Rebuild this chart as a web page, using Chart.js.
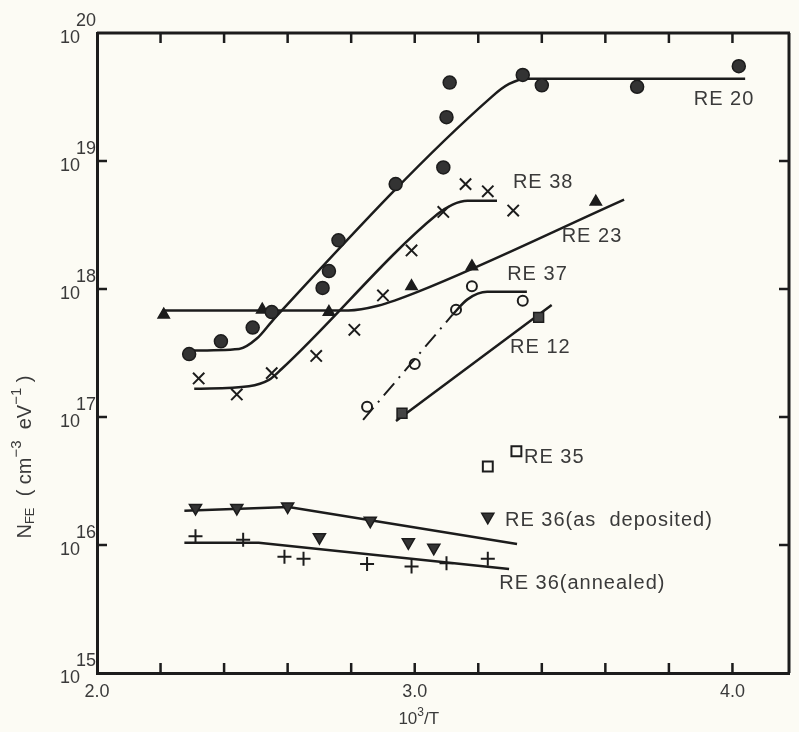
<!DOCTYPE html>
<html>
<head>
<meta charset="utf-8">
<script src="https://cdn.jsdelivr.net/npm/chart.js@4.4.0/dist/chart.umd.min.js"></script>
<style>
  html, body { margin: 0; padding: 0; background: #fcfbf4; }
  #wrap { width: 799px; height: 732px; }
</style>
</head>
<body>
<div id="wrap"><canvas id="chart" width="799" height="732"></canvas></div>
<script>
// values: x = 10^3/T, y = N_FE (cm^-3 eV^-1)
const re20X = [2.29, 2.39, 2.49, 2.55, 2.71, 2.73, 2.76, 2.94, 3.09, 3.10, 3.11, 3.34, 3.40, 3.70, 4.02];
const re20Y = [3.1e17, 3.9e17, 5.0e17, 6.6e17, 1.02e18, 1.38e18, 2.4e18, 6.6e18, 8.9e18, 2.2e19, 4.1e19, 4.7e19, 3.9e19, 3.8e19, 5.5e19];
const re20FitX = [2.275, 2.447, 2.503, 2.556, 3.244, 3.297, 3.353, 4.04];
const re20FitY = [3.3e17, 3.4e17, 4.1e17, 5.8e17, 3.2e19, 4.0e19, 4.4e19, 4.4e19];

const re38X = [2.32, 2.44, 2.55, 2.69, 2.81, 2.90, 2.99, 3.09, 3.16, 3.23, 3.31];
const re38Y = [2.0e17, 1.5e17, 2.2e17, 3.0e17, 4.8e17, 8.9e17, 2.0e18, 4.0e18, 6.6e18, 5.8e18, 4.1e18];
const re38FitX = [2.306, 2.478, 2.541, 2.581, 3.072, 3.119, 3.166, 3.259];
const re38FitY = [1.66e17, 1.74e17, 1.95e17, 2.37e17, 3.85e18, 4.57e18, 4.9e18, 4.9e18];

const re23X = [2.21, 2.52, 2.73, 2.99, 3.18, 3.57];
const re23Y = [6.3e17, 6.9e17, 6.6e17, 1.05e18, 1.5e18, 4.8e18];
const re23FitX = [2.206, 2.791, 2.884, 3.009, 3.659];
const re23FitY = [6.8e17, 6.8e17, 7.4e17, 9.5e17, 5.0e18];

const re37X = [2.85, 3.00, 3.13, 3.18, 3.34];
const re37Y = [1.2e17, 2.6e17, 6.9e17, 1.05e18, 8.1e17];
const re37DashX = [2.8375, 3.119];
const re37DashY = [9.5e16, 6.3e17];
const re37FitX = [3.119, 3.166, 3.228, 3.353];
const re37FitY = [6.3e17, 8.3e17, 9.5e17, 9.5e17];

const re12X = [2.96, 3.39];
const re12Y = [1.07e17, 6.0e17];
const re12FitX = [2.941, 3.431];
const re12FitY = [9.3e16, 7.5e17];

const re35X = [3.23, 3.32];
const re35Y = [4.1e16, 5.4e16];

const re36dX = [2.31, 2.44, 2.60, 2.70, 2.86, 2.98, 3.06, 3.23];
const re36dY = [1.95e16, 1.95e16, 2.0e16, 1.15e16, 1.55e16, 1.05e16, 9.5e15, 1.66e16];
const re36dFitX = [2.275, 2.603, 3.322];
const re36dFitY = [1.85e16, 1.98e16, 1.02e16];

const re36aX = [2.31, 2.46, 2.59, 2.65, 2.85, 2.99, 3.10, 3.23];
const re36aY = [1.17e16, 1.1e16, 8.1e15, 7.8e15, 7.1e15, 6.8e15, 7.2e15, 7.8e15];
const re36aFitX = [2.275, 2.509, 3.297];
const re36aFitY = [1.04e16, 1.04e16, 6.5e15];

const curveNames = ["RE 20", "RE 38", "RE 23", "RE 37", "RE 12", "RE 35", "RE 36(as  deposited)", "RE 36(annealed)"];
const nameAtX = [3.878, 3.309, 3.4625, 3.291, 3.30, 3.344, 3.284, 3.266];
const nameAtY = [3.0e19, 6.8e18, 2.57e18, 1.29e18, 3.5e17, 4.8e16, 1.55e16, 5.0e15];

const xTicks = [2.2, 2.4, 2.6, 2.8, 3.0, 3.2, 3.4, 3.6, 3.8, 4.0];
const xLabels = [2.0, 3.0, 4.0];
const yDecades = [15, 16, 17, 18, 19, 20];

const ink = "#1c1c1c";
const txt = "#3a3a3a";
const fontFam = "'Liberation Sans', Arial, sans-serif";

const pts = (xs, ys) => xs.map((x, i) => ({ x: x, y: ys[i] }));

function marks(xs, ys, style, opts) {
  return Object.assign({
    data: pts(xs, ys), showLine: false, pointStyle: style, pointRadius: 6,
    pointBackgroundColor: ink, pointBorderColor: ink, pointBorderWidth: 1.5, order: 0
  }, opts || {});
}
function fit(xs, ys, opts) {
  return Object.assign({
    data: pts(xs, ys), showLine: true, pointRadius: 0, borderColor: ink, borderWidth: 2.5,
    cubicInterpolationMode: "monotone", fill: false, order: 1
  }, opts || {});
}

const frame = {
  id: "frame",
  afterDraw(chart) {
    const { ctx, chartArea: a, scales: { x, y } } = chart;
    ctx.save();
    ctx.strokeStyle = ink;
    ctx.lineWidth = 3;
    ctx.beginPath();
    ctx.moveTo(a.left, a.top); ctx.lineTo(a.right + 1, a.top);
    ctx.moveTo(a.right, a.top); ctx.lineTo(a.right, a.bottom);
    ctx.stroke();
    ctx.lineWidth = 2.5;
    ctx.beginPath();
    xTicks.forEach(v => {
      const px = x.getPixelForValue(v);
      ctx.moveTo(px, a.bottom); ctx.lineTo(px, a.bottom - 10);
      ctx.moveTo(px, a.top); ctx.lineTo(px, a.top + 10);
    });
    yDecades.slice(1, -1).forEach(n => {
      const py = y.getPixelForValue(Math.pow(10, n));
      ctx.moveTo(a.left, py); ctx.lineTo(a.left + 10, py);
      ctx.moveTo(a.right, py); ctx.lineTo(a.right - 10, py);
    });
    ctx.stroke();

    // decade labels 10^n
    ctx.fillStyle = txt;
    ctx.textBaseline = "middle";
    yDecades.forEach(n => {
      const py = y.getPixelForValue(Math.pow(10, n));
      ctx.font = "18px " + fontFam;
      ctx.textAlign = "right";
      ctx.fillText("10", 80, py + 5);
      ctx.textAlign = "left";
      ctx.fillText(String(n), 76, py - 12);
    });

    // x title 10^3/T
    ctx.font = "17px " + fontFam;
    const a1 = ctx.measureText("10").width;
    ctx.font = "12px " + fontFam;
    const a2 = ctx.measureText("3").width;
    ctx.font = "17px " + fontFam;
    const a3 = ctx.measureText("/T").width;
    let tx = x.getPixelForValue(3.0) + 4 - (a1 + a2 + a3) / 2;
    ctx.textAlign = "left";
    ctx.fillText("10", tx, 719);
    ctx.font = "12px " + fontFam;
    ctx.fillText("3", tx + a1, 713);
    ctx.font = "17px " + fontFam;
    ctx.fillText("/T", tx + a1 + a2, 719);

    // y title with sub/superscripts
    const parts = [["N", 0, 20], ["FE", 5, 13], ["  ( cm", 0, 20], ["\u22123", -8, 15], ["  eV", 0, 20], ["\u22121", -8, 15], [" )", 0, 20]];
    let total = 0;
    parts.forEach(p => { ctx.font = p[2] + "px " + fontFam; total += ctx.measureText(p[0]).width; });
    ctx.translate(25, 457);
    ctx.rotate(-Math.PI / 2);
    let cx = -total / 2;
    parts.forEach(p => {
      ctx.font = p[2] + "px " + fontFam;
      ctx.fillText(p[0], cx, p[1]);
      cx += ctx.measureText(p[0]).width;
    });
    ctx.restore();

    // curve names
    ctx.save();
    ctx.fillStyle = txt;
    ctx.font = "20px " + fontFam;
    ctx.letterSpacing = "1px";
    ctx.textBaseline = "middle";
    ctx.textAlign = "left";
    curveNames.forEach((s, i) => {
      ctx.fillText(s, x.getPixelForValue(nameAtX[i]), y.getPixelForValue(nameAtY[i]));
    });
    ctx.restore();
  }
};

new Chart(document.getElementById("chart"), {
  type: "scatter",
  data: {
    datasets: [
      marks(re20X, re20Y, "circle", { pointBackgroundColor: "#333", pointRadius: 6.5 }),
      marks(re38X, re38Y, "crossRot", { pointBorderWidth: 2, pointRadius: 8 }),
      marks(re23X, re23Y, "triangle", { pointRadius: 6.5 }),
      marks(re37X, re37Y, "circle", { pointBackgroundColor: "rgba(0,0,0,0)", pointRadius: 5, pointBorderWidth: 2 }),
      marks(re12X, re12Y, "rect", { pointRadius: 7, pointBackgroundColor: "#444" }),
      marks(re35X, re35Y, "rect", { pointRadius: 7, pointBackgroundColor: "rgba(0,0,0,0)", pointBorderWidth: 2 }),
      marks(re36dX, re36dY, "triangle", { pointRotation: 180, pointRadius: 7, pointBackgroundColor: "#333" }),
      marks(re36aX, re36aY, "cross", { pointRadius: 7, pointBorderWidth: 2 }),
      fit(re20FitX, re20FitY),
      fit(re38FitX, re38FitY),
      fit(re23FitX, re23FitY),
      fit(re37DashX, re37DashY, { borderDash: [16, 7, 2, 7], borderWidth: 2, cubicInterpolationMode: "default" }),
      fit(re37FitX, re37FitY),
      fit(re12FitX, re12FitY, { cubicInterpolationMode: "default" }),
      fit(re36dFitX, re36dFitY, { cubicInterpolationMode: "default", tension: 0 }),
      fit(re36aFitX, re36aFitY, { cubicInterpolationMode: "default", tension: 0 })
    ]
  },
  options: {
    responsive: false,
    animation: false,
    devicePixelRatio: 1,
    layout: { padding: { top: 33, right: 0, left: 0, bottom: 0 } },
    scales: {
      x: {
        type: "linear",
        min: 2.0,
        max: 4.178,
        grid: { display: false, drawTicks: false },
        border: { display: true, color: ink, width: 3 },
        afterBuildTicks: s => { s.ticks = xLabels.map(v => ({ value: v })); },
        ticks: {
          autoSkip: false, maxRotation: 0, padding: 8,
          color: txt, font: { size: 18, family: fontFam },
          callback: v => v.toFixed(1)
        },
        afterFit: s => { s.height = 59; s.paddingLeft = 0; s.paddingRight = 0; }
      },
      y: {
        type: "logarithmic",
        min: 1e15,
        max: 1e20,
        grid: { display: false, drawTicks: false },
        border: { display: true, color: ink, width: 3 },
        ticks: { display: false },
        afterFit: s => { s.width = 97; }
      }
    },
    plugins: { legend: { display: false }, tooltip: { enabled: false } }
  },
  plugins: [frame]
});
</script>
</body>
</html>
